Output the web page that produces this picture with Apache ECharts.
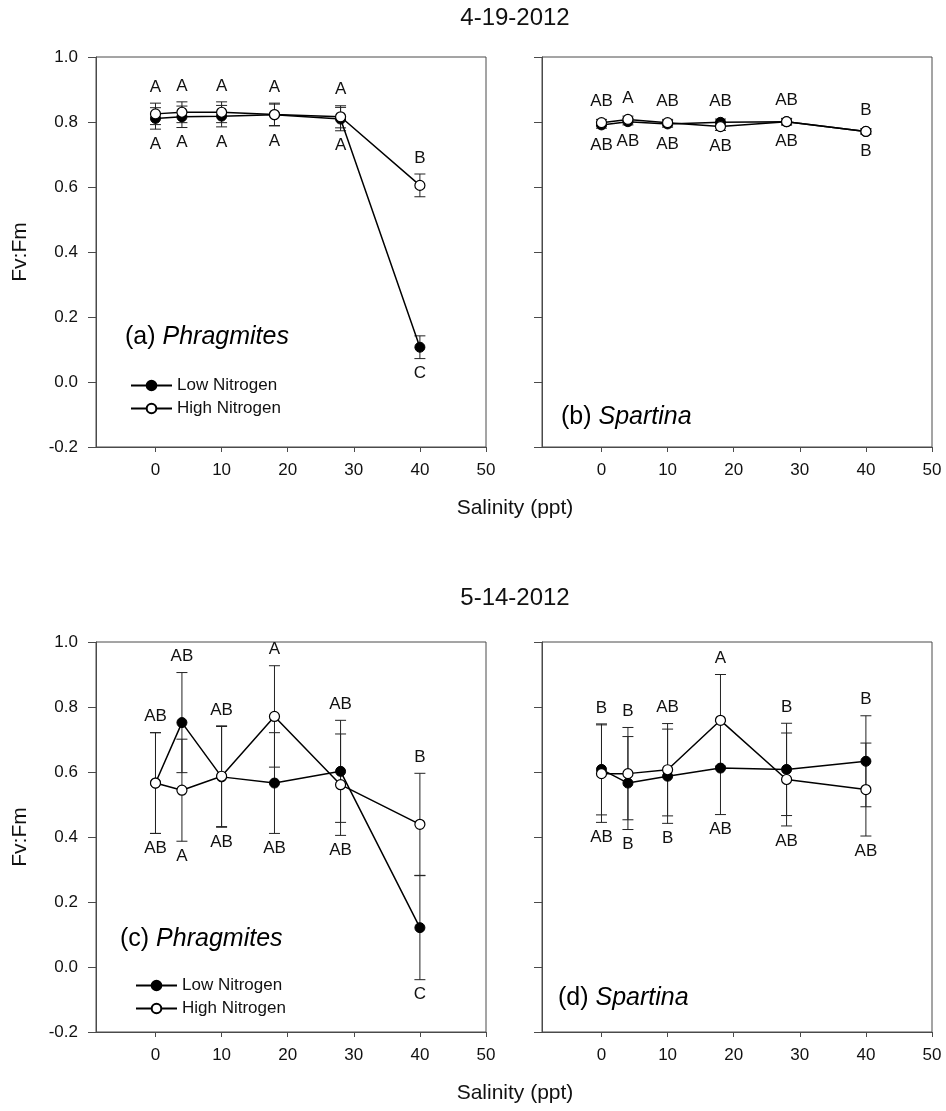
<!DOCTYPE html>
<html>
<head>
<meta charset="utf-8">
<title>Fv:Fm vs salinity</title>
<script src="https://cdn.jsdelivr.net/npm/echarts@6/dist/echarts.min.js"></script>
<style>
  html, body { margin: 0; padding: 0; background: #fff; }
  #chart { width: 946px; height: 1111px; }
</style>
</head>
<body>
<div id="chart"></div>
<script>
// Salinity treatments (ppt)
const salinity = [0, 4, 10, 18, 28, 40];
const xTicks = [0, 10, 20, 30, 40, 50];
const dateLabels = ['4-19-2012', '5-14-2012'];
const seriesNames = ['Low Nitrogen', 'High Nitrogen'];

// (a) Phragmites, 4-19-2012
const aLow = [0.811, 0.816, 0.818, 0.822, 0.809, 0.107];
const aLowErr = [0.033, 0.033, 0.033, 0.033, 0.036, 0.035];
const aHigh = [0.825, 0.830, 0.830, 0.823, 0.816, 0.605];
const aHighErr = [0.033, 0.032, 0.032, 0.035, 0.034, 0.035];
const aTop = ['A', 'A', 'A', 'A', 'A', 'B'];
const aBottom = ['A', 'A', 'A', 'A', 'A', 'C'];

// (b) Spartina, 4-19-2012
const bLow = [0.791, 0.801, 0.794, 0.799, 0.801, 0.771];
const bLowErr = [0.010, 0.010, 0.010, 0.010, 0.010, 0.008];
const bHigh = [0.798, 0.808, 0.798, 0.786, 0.801, 0.771];
const bHighErr = [0.010, 0.010, 0.010, 0.012, 0.010, 0.008];
const bTop = ['AB', 'A', 'AB', 'AB', 'AB', 'B'];
const bBottom = ['AB', 'AB', 'AB', 'AB', 'AB', 'B'];

// (c) Phragmites, 5-14-2012
const cLow = [0.566, 0.752, 0.585, 0.566, 0.602, 0.121];
const cLowErr = [0.155, 0.154, 0.155, 0.155, 0.157, 0.160];
const cHigh = [0.566, 0.544, 0.587, 0.771, 0.561, 0.439];
const cHighErr = [0.155, 0.157, 0.155, 0.156, 0.156, 0.157];
const cTop = ['AB', 'AB', 'AB', 'A', 'AB', 'B'];
const cBottom = ['AB', 'A', 'AB', 'AB', 'AB', 'C'];

// (d) Spartina, 5-14-2012
const dLow = [0.608, 0.566, 0.587, 0.612, 0.608, 0.633];
const dLowErr = [0.140, 0.143, 0.145, 0.143, 0.142, 0.140];
const dHigh = [0.595, 0.595, 0.607, 0.759, 0.577, 0.546];
const dHighErr = [0.150, 0.142, 0.142, 0.141, 0.143, 0.143];
const dTop = ['B', 'B', 'AB', 'A', 'B', 'B'];
const dBottom = ['AB', 'B', 'B', 'AB', 'AB', 'AB'];

const panels = [
  { low: aLow, lowErr: aLowErr, high: aHigh, highErr: aHighErr, top: aTop, bottom: aBottom,
    tag: '(a) ', species: 'Phragmites' },
  { low: bLow, lowErr: bLowErr, high: bHigh, highErr: bHighErr, top: bTop, bottom: bBottom,
    tag: '(b) ', species: 'Spartina' },
  { low: cLow, lowErr: cLowErr, high: cHigh, highErr: cHighErr, top: cTop, bottom: cBottom,
    tag: '(c) ', species: 'Phragmites' },
  { low: dLow, lowErr: dLowErr, high: dHigh, highErr: dHighErr, top: dTop, bottom: dBottom,
    tag: '(d) ', species: 'Spartina' }
];

const FONT = '"Liberation Sans", Arial, sans-serif';
const AXIS_COLOR = '#4a4a4a';
const gridBoxes = [
  { left: 96, top: 57 }, { left: 542, top: 57 },
  { left: 96, top: 642 }, { left: 542, top: 642 }
];
const BOX = 390;

const chart = echarts.init(document.getElementById('chart'), null, { renderer: 'canvas' });

// vertical error bar with caps
function errorBarRender(params, api) {
  const x = api.value(0), y = api.value(1), e = api.value(2);
  const hi = api.coord([x, y + e]);
  const lo = api.coord([x, y - e]);
  const w = 5.5;
  const st = { stroke: '#222', lineWidth: 1 };
  return {
    type: 'group',
    children: [
      { type: 'line', shape: { x1: hi[0], y1: hi[1], x2: lo[0], y2: lo[1] }, style: st },
      { type: 'line', shape: { x1: hi[0] - w, y1: hi[1], x2: hi[0] + w, y2: hi[1] }, style: st },
      { type: 'line', shape: { x1: lo[0] - w, y1: lo[1], x2: lo[0] + w, y2: lo[1] }, style: st }
    ]
  };
}

// significance letters above the highest cap and below the lowest cap
function letterRender(topTexts, bottomTexts) {
  return function (params, api) {
    const i = params.dataIndex;
    const x = api.value(0);
    const capTop = api.coord([x, api.value(1)]);
    const capBot = api.coord([x, api.value(2)]);
    const ptTop = api.coord([x, api.value(3)]);
    const ptBot = api.coord([x, api.value(4)]);
    const yTop = Math.min(capTop[1], ptTop[1] - 5) - 16;
    const yBot = Math.max(capBot[1], ptBot[1] + 5) + 15;
    const style = (t) => ({
      text: t, fontSize: 17, fontFamily: FONT, fill: '#111',
      align: 'center', verticalAlign: 'middle'
    });
    return {
      type: 'group',
      children: [
        { type: 'text', x: capTop[0], y: yTop, style: style(topTexts[i]) },
        { type: 'text', x: capBot[0], y: yBot, style: style(bottomTexts[i]) }
      ]
    };
  };
}

const grid = [], xAxis = [], yAxis = [], series = [];

panels.forEach((p, k) => {
  const g = gridBoxes[k];
  grid.push({
    left: g.left, top: g.top, width: BOX, height: BOX,
    show: true, borderColor: AXIS_COLOR, borderWidth: 1, backgroundColor: 'transparent'
  });
  xAxis.push({
    type: 'value', gridIndex: k, min: -9, max: 50,
    axisLine: { show: true, onZero: false, lineStyle: { color: AXIS_COLOR, width: 1 } },
    axisTick: { show: true, length: 5, customValues: xTicks, lineStyle: { color: AXIS_COLOR } },
    axisLabel: { show: true, customValues: xTicks, margin: 15, fontSize: 17, fontFamily: FONT, color: '#111' },
    splitLine: { show: false }
  });
  const leftCol = (k % 2 === 0);
  yAxis.push({
    type: 'value', gridIndex: k, min: -0.2, max: 1.0, interval: 0.2,
    name: leftCol ? 'Fv:Fm' : '', nameLocation: 'middle', nameGap: 65, nameRotate: 90,
    nameTextStyle: { fontSize: 21, fontFamily: FONT, color: '#111' },
    axisLine: { show: true, onZero: false, lineStyle: { color: AXIS_COLOR, width: 1 } },
    axisTick: { show: true, length: 8, lineStyle: { color: AXIS_COLOR } },
    axisLabel: {
      show: leftCol, margin: 18, fontSize: 17, fontFamily: FONT, color: '#111',
      formatter: (v) => v.toFixed(1)
    },
    splitLine: { show: false }
  });

  const lowBars = salinity.map((s, i) => [s, p.low[i], p.lowErr[i]]);
  const highBars = salinity.map((s, i) => [s, p.high[i], p.highErr[i]]);
  series.push({
    name: 'errLow' + k, type: 'custom', xAxisIndex: k, yAxisIndex: k, z: 2,
    renderItem: errorBarRender, data: lowBars, silent: true
  });
  series.push({
    name: 'errHigh' + k, type: 'custom', xAxisIndex: k, yAxisIndex: k, z: 2,
    renderItem: errorBarRender, data: highBars, silent: true
  });
  series.push({
    name: seriesNames[0], type: 'line', xAxisIndex: k, yAxisIndex: k, z: 3,
    data: salinity.map((s, i) => [s, p.low[i]]),
    symbol: 'circle', symbolSize: 10,
    itemStyle: { color: '#000', borderColor: '#000', borderWidth: 1 },
    lineStyle: { color: '#000', width: 1.5 }
  });
  series.push({
    name: seriesNames[1], type: 'line', xAxisIndex: k, yAxisIndex: k, z: 4,
    data: salinity.map((s, i) => [s, p.high[i]]),
    symbol: 'circle', symbolSize: 10,
    itemStyle: { color: '#fff', borderColor: '#000', borderWidth: 1.2 },
    lineStyle: { color: '#000', width: 1.5 }
  });
  const letters = salinity.map((s, i) => [
    s,
    Math.max(p.low[i] + p.lowErr[i], p.high[i] + p.highErr[i]),
    Math.min(p.low[i] - p.lowErr[i], p.high[i] - p.highErr[i]),
    Math.max(p.low[i], p.high[i]),
    Math.min(p.low[i], p.high[i])
  ]);
  series.push({
    name: 'letters' + k, type: 'custom', xAxisIndex: k, yAxisIndex: k, z: 5,
    renderItem: letterRender(p.top, p.bottom), data: letters, silent: true
  });
});

const legendBase = {
  data: seriesNames, orient: 'vertical', itemWidth: 41, itemHeight: 12, itemGap: 6,
  selectedMode: false,
  textStyle: { fontSize: 17, fontFamily: FONT, color: '#111' }
};

const graphic = [
  { type: 'text', x: 515, y: 18, style: { text: dateLabels[0], fontSize: 24, fontFamily: FONT, fill: '#111', align: 'center', verticalAlign: 'middle' } },
  { type: 'text', x: 515, y: 598, style: { text: dateLabels[1], fontSize: 24, fontFamily: FONT, fill: '#111', align: 'center', verticalAlign: 'middle' } },
  { type: 'text', x: 515, y: 508, style: { text: 'Salinity (ppt)', fontSize: 21, fontFamily: FONT, fill: '#111', align: 'center', verticalAlign: 'middle' } },
  { type: 'text', x: 515, y: 1093, style: { text: 'Salinity (ppt)', fontSize: 21, fontFamily: FONT, fill: '#111', align: 'center', verticalAlign: 'middle' } }
];
const tagPos = [[125, 337], [561, 417], [120, 939], [558, 998]];
panels.forEach((p, k) => {
  graphic.push({
    type: 'text', x: tagPos[k][0], y: tagPos[k][1],
    style: {
      text: '{n|' + p.tag + '}{i|' + p.species + '}',
      verticalAlign: 'middle', align: 'left',
      rich: {
        n: { fontSize: 25, fontFamily: FONT, color: '#111' },
        i: { fontSize: 25, fontFamily: FONT, fontStyle: 'italic', color: '#111' }
      }
    }
  });
});

chart.setOption({
  animation: false,
  backgroundColor: '#fff',
  grid, xAxis, yAxis, series, graphic,
  legend: [
    Object.assign({}, legendBase, { left: 125, top: 372 }),
    Object.assign({}, legendBase, { left: 130, top: 972 })
  ]
});
</script>
</body>
</html>
